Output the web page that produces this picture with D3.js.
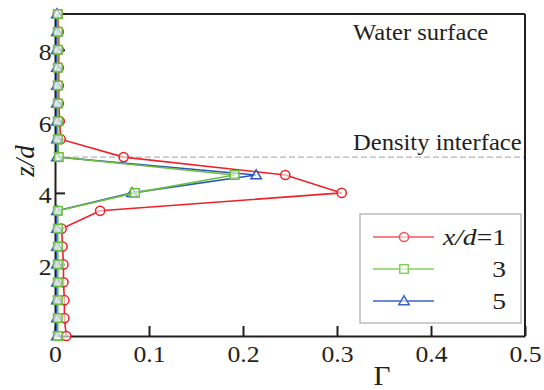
<!DOCTYPE html>
<html>
<head>
<meta charset="utf-8">
<script src="https://cdn.jsdelivr.net/npm/d3@7"></script>
<style>
  html, body { margin: 0; padding: 0; background: #fff; }
  svg { display: block; }
</style>
</head>
<body>
<svg id="chart" width="544" height="390"></svg>
<script>
// Vertical profiles of Γ against depth z/d at three stations downstream.
const zLevels = [0, 0.5, 1, 1.5, 2, 2.5, 3, 3.5, 4, 4.5, 5, 5.5, 6, 6.5, 7, 7.5, 8, 8.5, 9];
const gammaX1 = [0.012, 0.010, 0.010, 0.009, 0.009, 0.008, 0.007, 0.048, 0.305, 0.245, 0.073, 0.006, 0.005, 0.004, 0.004, 0.004, 0.004, 0.004, 0.003];
const gammaX3 = [0.003, 0.003, 0.003, 0.003, 0.003, 0.003, 0.003, 0.003, 0.085, 0.191, 0.004, 0.003, 0.003, 0.003, 0.003, 0.003, 0.003, 0.003, 0.003];
const gammaX5 = [0.002, 0.002, 0.002, 0.002, 0.002, 0.002, 0.002, 0.002, 0.082, 0.214, 0.002, 0.002, 0.002, 0.002, 0.002, 0.002, 0.002, 0.002, 0.002];
const seriesNames = ["1", "3", "5"];
const xTicks = [0, 0.1, 0.2, 0.3, 0.4, 0.5];
const xTickLabels = ["0", "0.1", "0.2", "0.3", "0.4", "0.5"];
const yTicks = [2, 4, 6, 8];
const yTickLabels = ["2", "4", "6", "8"];
const interfaceZ = 5;

const FONT = '"Liberation Serif"';
const INK = "#231f20";

const svg = d3.select("#chart");
const x = d3.scaleLinear().domain([0, 0.5]).range([55, 525]);
const y = d3.scaleLinear().domain([0, 9]).range([336, 14]);

const series = [
  { name: seriesNames[0], values: gammaX1, color: "#ee2229", legendColor: "#f2545b", shape: "circle" },
  { name: seriesNames[1], values: gammaX3, color: "#6cbf3c", legendColor: "#86cf5c", shape: "square" },
  { name: seriesNames[2], values: gammaX5, color: "#2a55b8", legendColor: "#3c64c0", shape: "triangle" }
];

function label(sel, size) {
  return sel.attr("font-family", null).style("font-family", FONT)
    .style("font-size", size + "px").style("fill", INK);
}

// text placed at (px, py) and stretched horizontally by sx about its anchor
function placeText(parent, px, py, size, sx, anchor) {
  return label(parent.append("text"), size)
    .attr("transform", `translate(${px},${py}) scale(${sx},1)`)
    .attr("text-anchor", anchor || "start");
}

// density interface reference line
svg.append("line")
  .attr("x1", x(0)).attr("x2", x(0.5))
  .attr("y1", y(interfaceZ)).attr("y2", y(interfaceZ))
  .attr("stroke", "#b4b4b4").attr("stroke-width", 1.2)
  .attr("stroke-dasharray", "6,3");

// frame
const frame = svg.append("g").attr("stroke", INK).attr("stroke-width", 2).attr("fill", "none");
frame.append("line").attr("x1", x(0)).attr("x2", x(0.5)).attr("y1", y(9)).attr("y2", y(9));
frame.append("line").attr("x1", x(0.5)).attr("x2", x(0.5)).attr("y1", y(9)).attr("y2", y(0));

// axes
const xAxis = d3.axisBottom(x).tickValues(xTicks)
  .tickFormat((d, i) => xTickLabels[i]).tickSizeInner(-10).tickSizeOuter(0).tickPadding(10);
const gx = svg.append("g").attr("transform", `translate(0,${y(0)})`).call(xAxis);
gx.attr("font-family", null).attr("font-size", null);
gx.select(".domain").attr("stroke", INK).attr("stroke-width", 2);
gx.selectAll(".tick line").attr("stroke", INK).attr("stroke-width", 2);
label(gx.selectAll(".tick text"), 23).attr("transform", "scale(1.12,1)");

const yAxis = d3.axisLeft(y).tickValues(yTicks)
  .tickFormat((d, i) => yTickLabels[i]).tickSizeInner(-10).tickSizeOuter(0).tickPadding(3);
const gy = svg.append("g").attr("transform", `translate(${x(0)},0)`).call(yAxis);
gy.attr("font-family", null).attr("font-size", null);
gy.select(".domain").attr("stroke", INK).attr("stroke-width", 2);
gy.selectAll(".tick line").attr("stroke", INK).attr("stroke-width", 2);
label(gy.selectAll(".tick text"), 23).attr("dy", "0.42em").attr("transform", "scale(1.12,1)");

// axis titles
placeText(svg, 382, 385, 28, 1.05, "middle").text("Γ");
label(svg.append("text"), 27).attr("transform", "translate(34,161) rotate(-90)")
  .attr("text-anchor", "middle").style("font-style", "italic").text("z/d");

// annotations
placeText(svg, 353, 40, 23, 1.07).text("Water surface");
placeText(svg, 353, 150, 23, 1.07).text("Density interface");

function drawMarker(g, shape, color, cx, cy) {
  if (shape === "circle") {
    g.append("circle").attr("cx", cx).attr("cy", cy).attr("r", 4.6)
      .attr("fill", "#fff").attr("fill-opacity", 0.6).attr("stroke", color).attr("stroke-width", 1.5);
  } else if (shape === "square") {
    g.append("rect").attr("x", cx - 4.3).attr("y", cy - 4.3).attr("width", 8.6).attr("height", 8.6)
      .attr("fill", "#fff").attr("fill-opacity", 0.6).attr("stroke", color).attr("stroke-width", 1.5);
  } else {
    const s = 5.2;
    g.append("path")
      .attr("d", `M${cx},${cy - s}L${cx + s},${cy + s * 0.7}L${cx - s},${cy + s * 0.7}Z`)
      .attr("fill", "#fff").attr("fill-opacity", 0.6).attr("stroke", color).attr("stroke-width", 1.5);
  }
}

// profiles: red first, then blue, green on top
const drawOrder = [series[0], series[2], series[1]];
const line = d3.line().x(d => x(d[0])).y(d => y(d[1]));
drawOrder.forEach(s => {
  const pts = s.values.map((v, i) => [v, zLevels[i]]);
  const g = svg.append("g");
  g.append("path").datum(pts).attr("d", line)
    .attr("fill", "none").attr("stroke", s.color).attr("stroke-width", 1.6);
  pts.forEach(p => drawMarker(g, s.shape, s.color, x(p[0]), y(p[1])));
});

// legend
const lg = svg.append("g");
lg.append("rect").attr("x", 360).attr("y", 214).attr("width", 161).attr("height", 109)
  .attr("fill", "#fff").attr("stroke", "#bdbdbd").attr("stroke-width", 1.5);
const rowY = [237, 269, 301];
series.forEach((s, i) => {
  lg.append("line").attr("x1", 373).attr("x2", 434).attr("y1", rowY[i]).attr("y2", rowY[i])
    .attr("stroke", s.legendColor).attr("stroke-width", 1.5);
  drawMarker(lg, s.shape, s.legendColor, 404, rowY[i]);
  const t = placeText(lg, 506, rowY[i] + 8, 23, 1.2, "end");
  if (i === 0) {
    t.append("tspan").style("font-style", "italic").text("x/d");
    t.append("tspan").text("=" + s.name);
  } else {
    t.text(s.name);
  }
});
</script>
</body>
</html>
